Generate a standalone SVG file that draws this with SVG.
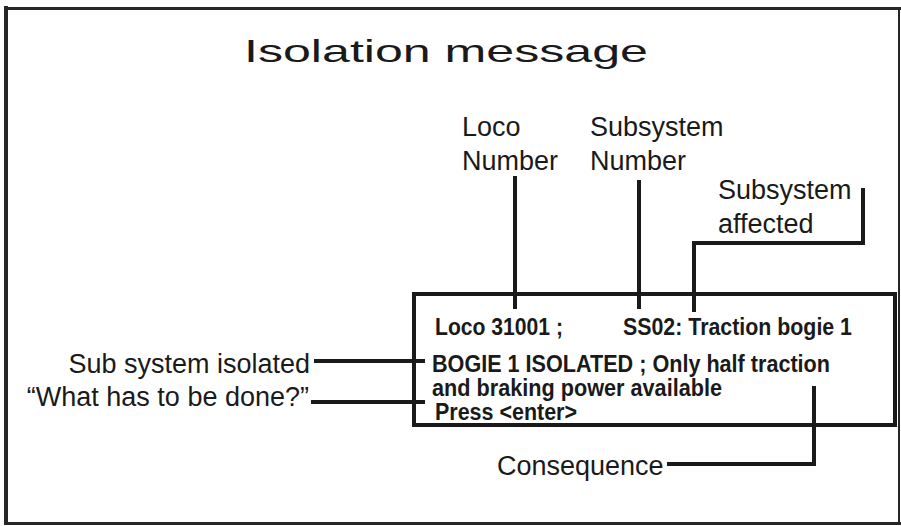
<svg xmlns="http://www.w3.org/2000/svg" width="901" height="526" viewBox="0 0 901 526">
<style>
.lbl{font-family:"Liberation Sans",Arial,sans-serif;font-size:27px;fill:#1a1a1a}
.msg{font-family:"Liberation Sans",Arial,sans-serif;font-size:23px;font-weight:bold;fill:#1a1a1a}
.ln{fill:none;stroke:#1a1a1a;stroke-width:4}
.fr{stroke:#262626;fill:none}
</style>
<rect width="901" height="526" fill="#ffffff"/>
<g id="frame">
<path class="fr" stroke-width="4" d="M6 6 V524"/>
<path class="fr" stroke-width="3" d="M4 8.5 H901"/>
<path class="fr" stroke-width="2" stroke="#555" d="M899 7 V524"/>
<path class="fr" stroke-width="3" d="M4 523.5 H901"/>
</g>
<text x="244" y="62" font-family="'Liberation Sans',Arial,sans-serif" font-size="32" fill="#1a1a1a" textLength="404" lengthAdjust="spacingAndGlyphs">Isolation message</text>

<g id="message-box">
<rect x="414" y="294" width="481" height="131" fill="none" stroke="#1a1a1a" stroke-width="4"/>
<text class="msg" x="435" y="335" textLength="128" lengthAdjust="spacingAndGlyphs">Loco 31001 ;</text>
<text class="msg" x="623" y="335" textLength="229" lengthAdjust="spacingAndGlyphs">SS02: Traction bogie 1</text>
<text class="msg" x="432" y="372" textLength="398" lengthAdjust="spacingAndGlyphs">BOGIE 1 ISOLATED ; Only half traction</text>
<text class="msg" x="432" y="396" textLength="290" lengthAdjust="spacingAndGlyphs">and braking power available</text>
<text class="msg" x="435" y="420" font-size="22" textLength="142" lengthAdjust="spacingAndGlyphs">Press &lt;enter&gt;</text>
</g>

<g id="label-loco-number">
<text class="lbl" x="462" y="136">Loco</text>
<text class="lbl" x="462" y="170">Number</text>
</g>
<g id="label-subsystem-number">
<text class="lbl" x="590" y="136">Subsystem</text>
<text class="lbl" x="590" y="170">Number</text>
</g>
<g id="label-subsystem-affected">
<text class="lbl" x="718" y="199">Subsystem</text>
<text class="lbl" x="718" y="233">affected</text>
</g>
<g id="label-sub-system-isolated">
<text class="lbl" x="310" y="373" text-anchor="end">Sub system isolated</text>
</g>
<g id="label-what-to-do">
<text class="lbl" x="309" y="406" text-anchor="end">“What has to be done?”</text>
</g>
<g id="label-consequence">
<text class="lbl" x="497" y="475">Consequence</text>
</g>

<g id="connectors">
<path class="ln" d="M515 176 V309"/>
<path class="ln" d="M639 180 V309"/>
<path class="ln" d="M863 188 V243 H694 V312"/>
<path class="ln" d="M314 361 H425"/>
<path class="ln" d="M311 402 H425"/>
<path class="ln" d="M667 464 H814 V386"/>
</g>
</svg>
